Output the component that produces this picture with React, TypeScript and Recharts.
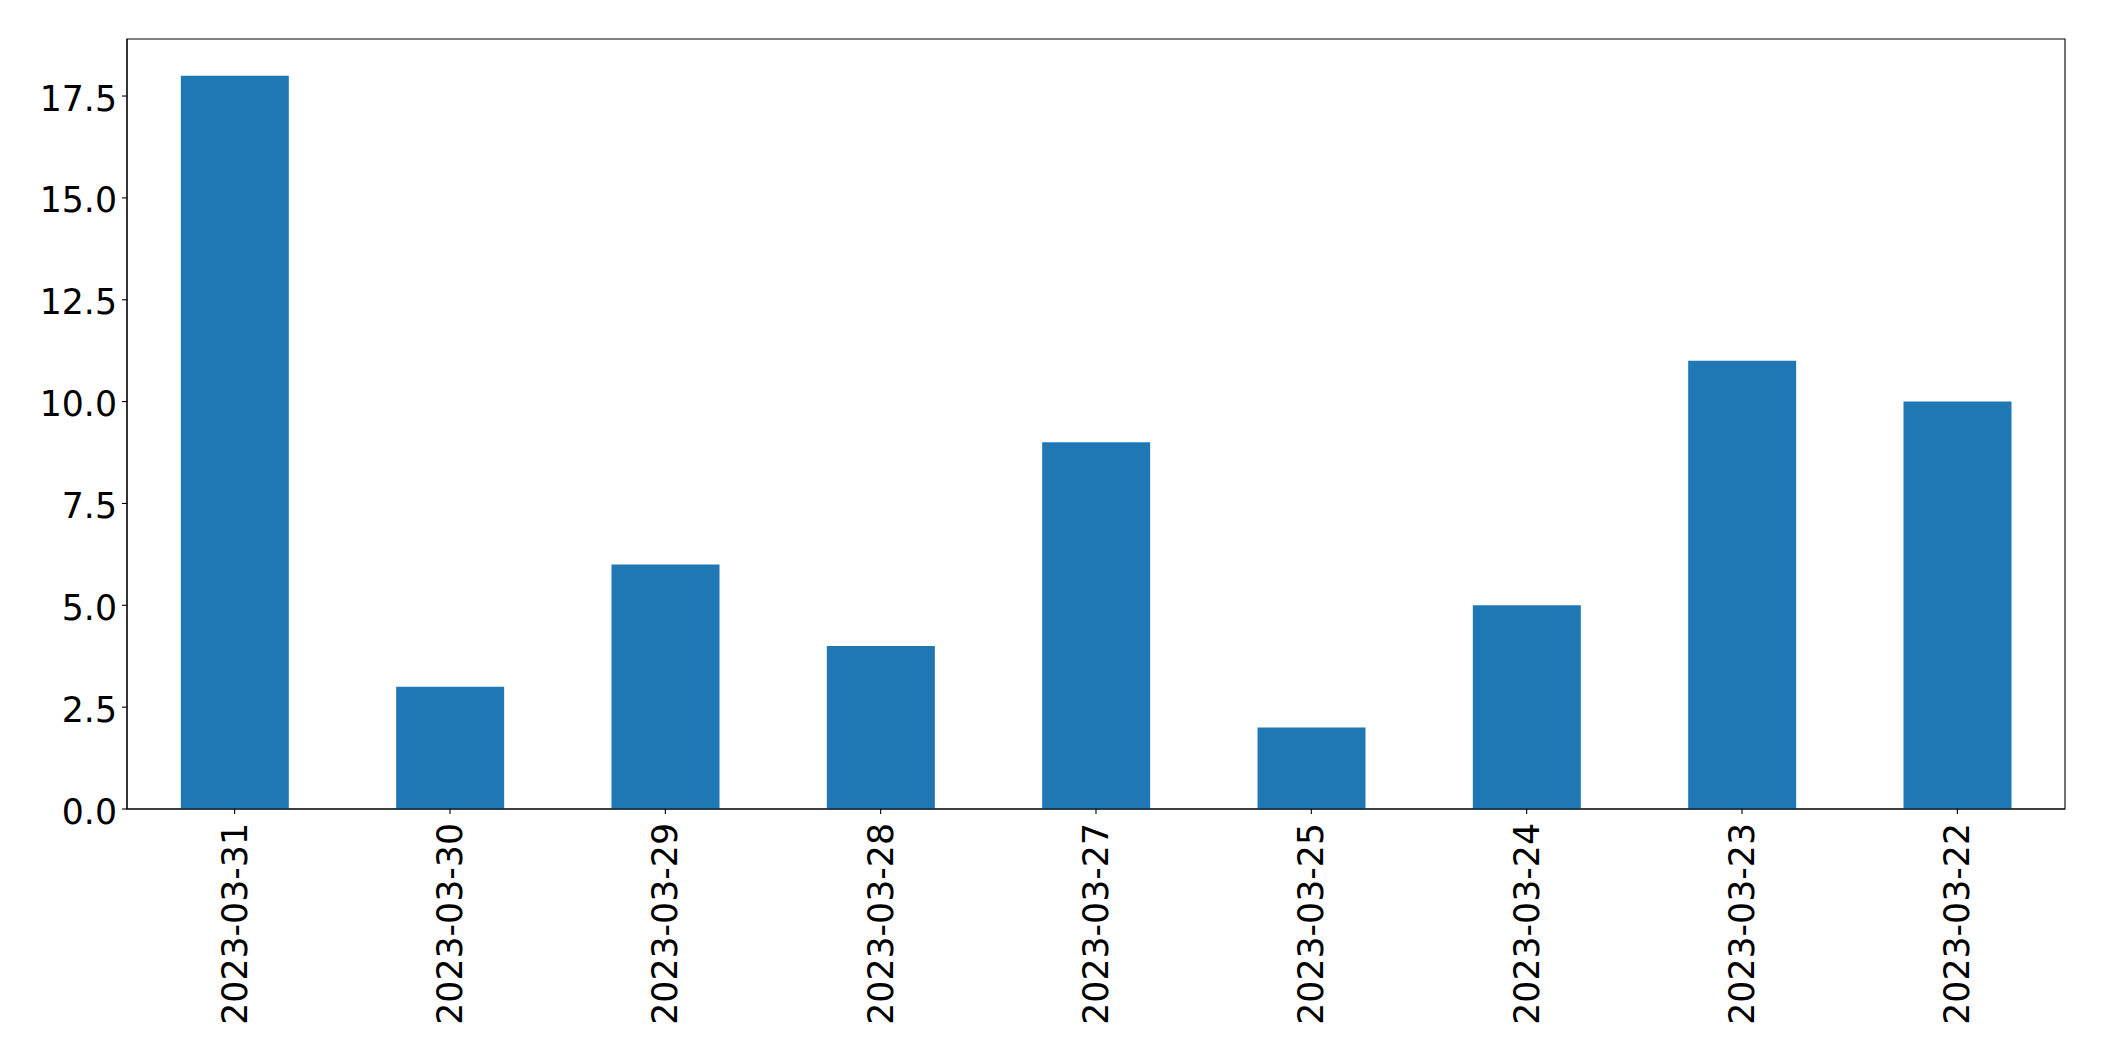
import React from "react";
import { BarChart, Bar, XAxis, YAxis, ReferenceArea } from "recharts";

const categories = ["2023-03-31", "2023-03-30", "2023-03-29", "2023-03-28", "2023-03-27", "2023-03-25", "2023-03-24", "2023-03-23", "2023-03-22"];
const values = [18, 3, 6, 4, 9, 2, 5, 11, 10];
const yTicks = [0, 2.5, 5, 7.5, 10, 12.5, 15, 17.5];

const data = categories.map((c, i) => ({ date: c, value: values[i] }));

const FONT = "DejaVu Sans";
const FS = 34.72;

const XTick = (props: any) => {
  const { x, y, payload } = props;
  const ty = y + 7;
  return (
    <text
      x={x}
      y={ty}
      transform={`rotate(-90, ${x}, ${ty})`}
      fontFamily={FONT}
      fontSize={FS}
      fill="#000"
      textAnchor="end"
      dominantBaseline="central"
    >
      {payload.value}
    </text>
  );
};

const YTick = (props: any) => {
  const { x, y, payload } = props;
  return (
    <text x={x - 3} y={y + 2.5} fontFamily={FONT} fontSize={FS} fill="#000" textAnchor="end" dominantBaseline="central">
      {Number(payload.value).toFixed(1)}
    </text>
  );
};

export default function App() {
  return (
    <div style={{ position: "fixed", left: 0, top: 0, width: 2104, height: 1061, background: "#fff" }}>
      <BarChart
        width={2104}
        height={1061}
        data={data}
        margin={{ top: 39, right: 39, bottom: 0, left: 0 }}
        barCategoryGap="25%"
      >
        <XAxis
          dataKey="date"
          xAxisId="b"
          height={252}
          tick={<XTick />}
          tickLine={{ stroke: "#000", strokeWidth: 1.1 }}
          axisLine={{ stroke: "#000", strokeWidth: 1.1 }}
          tickSize={5}
          interval={0}
        />
        <YAxis
          yAxisId="l"
          width={127}
          domain={[0, 18.9]}
          ticks={yTicks}
          tick={<YTick />}
          tickLine={{ stroke: "#000", strokeWidth: 1.1 }}
          axisLine={{ stroke: "#000", strokeWidth: 1.1 }}
          tickSize={5}
          allowDataOverflow
        />
        <Bar dataKey="value" xAxisId="b" yAxisId="l" fill="#1f77b4" isAnimationActive={false} />
        <ReferenceArea xAxisId="b" yAxisId="l" y1={0} y2={18.9} fill="none" stroke="#000" strokeWidth={1.1} ifOverflow="visible" />
      </BarChart>
    </div>
  );
}
